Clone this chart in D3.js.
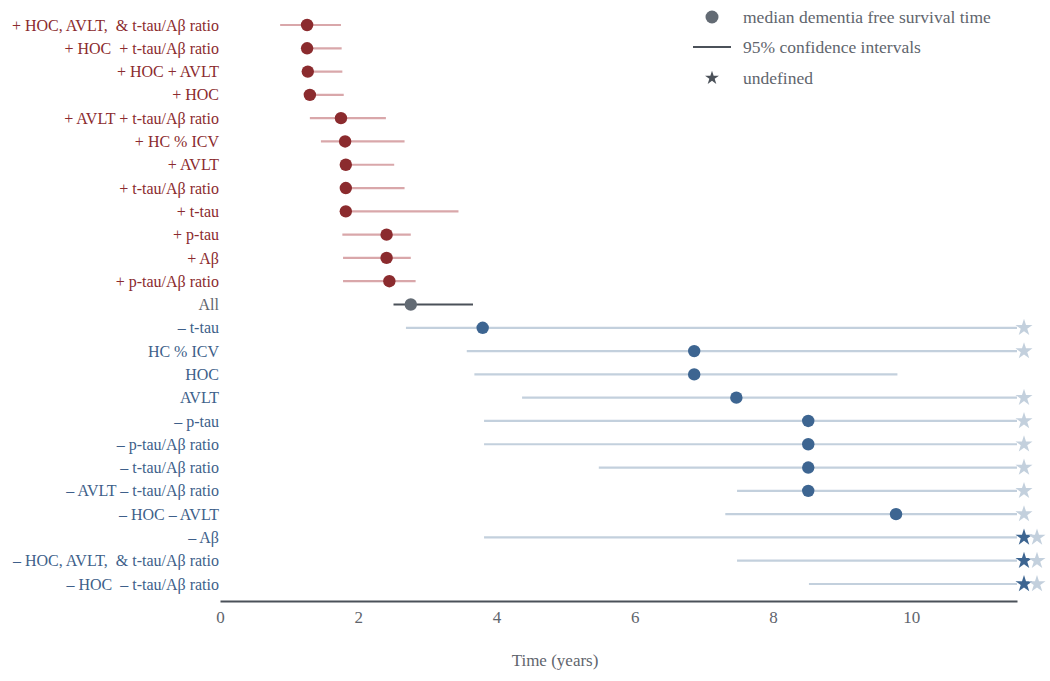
<!DOCTYPE html>
<html><head><meta charset="utf-8">
<script src="https://cdn.jsdelivr.net/npm/d3@7"></script>
<style>body{margin:0;background:#fff}text{font-family:"Liberation Serif","DejaVu Serif",serif;white-space:pre}</style>
</head><body><svg id="c" width="1050" height="681"></svg>
<script>
const labels = ["+ HOC, AVLT,  & t-tau/Aβ ratio","+ HOC  + t-tau/Aβ ratio","+ HOC + AVLT","+ HOC","+ AVLT + t-tau/Aβ ratio","+ HC % ICV","+ AVLT","+ t-tau/Aβ ratio","+ t-tau","+ p-tau","+ Aβ","+ p-tau/Aβ ratio","All","– t-tau","HC % ICV","HOC","AVLT","– p-tau","– p-tau/Aβ ratio","– t-tau/Aβ ratio","– AVLT – t-tau/Aβ ratio","– HOC – AVLT","– Aβ","– HOC, AVLT,  & t-tau/Aβ ratio","– HOC  – t-tau/Aβ ratio"];
const groups = ["add","add","add","add","add","add","add","add","add","add","add","add","all","rem","rem","rem","rem","rem","rem","rem","rem","rem","rem","rem","rem"];
// null = undefined
const median = [1.26,1.26,1.27,1.30,1.75,1.81,1.82,1.82,1.82,2.41,2.41,2.45,2.76,3.80,6.86,6.86,7.47,8.51,8.51,8.51,8.51,9.78,null,null,null];
const ciLow  = [0.87,1.22,1.27,1.30,1.30,1.46,1.82,1.82,1.82,1.77,1.78,1.78,2.51,2.69,3.57,3.68,4.37,3.82,3.82,5.48,7.48,7.31,3.82,7.48,8.52];
const ciHigh = [1.75,1.76,1.77,1.79,2.40,2.67,2.52,2.67,3.45,2.76,2.76,2.83,3.66,null,null,9.80,null,null,null,null,null,null,null,null,null];
const xTicks = [0,2,4,6,8,10];
const legendItems = ["median dementia free survival time","95% confidence intervals","undefined"];

const colors = {
  add:{text:"#8b2b2e",dot:"#8b2b2e",ci:"#d9a7aa"},
  all:{text:"#5f656d",dot:"#636b74",ci:"#4b5159"},
  rem:{text:"#3e5f8a",dot:"#3d6591",ci:"#c3d0dd"}
};
const svg = d3.select("#c");
const xMax = 11.53;
const x = d3.scaleLinear().domain([0,xMax]).range([220,1017]);
const y = d3.scalePoint().domain(d3.range(labels.length)).range([25,584]);

// axis
const ax = svg.append("g").attr("transform","translate(0,601)")
  .call(d3.axisBottom(x).tickValues(xTicks).tickSize(0).tickPadding(10).tickFormat(d3.format("d")));
ax.select(".domain").attr("stroke","#4b5159").attr("stroke-width",2.2);
ax.selectAll("text").attr("fill","#5f656d").style("font-size","17px").style("font-family","Liberation Serif");
svg.append("text").attr("x",555).attr("y",666).attr("text-anchor","middle")
  .attr("fill","#5f656d").style("font-size","17px").text("Time (years)");

const rows = svg.append("g").selectAll("g").data(labels).join("g")
  .attr("transform",(d,i)=>`translate(0,${y(i)})`);
rows.append("text").attr("x",219).attr("dy","0.35em").attr("text-anchor","end")
  .style("font-size","16px").attr("fill",(d,i)=>colors[groups[i]].text).text(d=>d);
rows.append("line")
  .attr("x1",(d,i)=>x(ciLow[i])).attr("x2",(d,i)=>x(ciHigh[i]===null?xMax:ciHigh[i]))
  .attr("stroke",(d,i)=>colors[groups[i]].ci).attr("stroke-width",2.2);
const star = d3.symbol().type(d3.symbolStar).size(90);
rows.filter((d,i)=>median[i]!==null).append("circle")
  .attr("cx",(d,i)=>x(median[labels.indexOf(d)])).attr("r",6.2)
  .attr("fill",d=>colors[groups[labels.indexOf(d)]].dot);
rows.each(function(d,i){
  const g=d3.select(this);
  if(median[i]===null){
    g.append("path").attr("d",star).attr("transform",`translate(${x(xMax)+7},0)`).attr("fill","#3d6591");
    g.append("path").attr("d",star).attr("transform",`translate(${x(xMax)+20},0)`).attr("fill","#c3d0dd");
  } else if(ciHigh[i]===null){
    g.append("path").attr("d",star).attr("transform",`translate(${x(xMax)+7},0)`).attr("fill","#c3d0dd");
  }
});

// legend
const lg = svg.append("g");
const ly = [17,47,78];
lg.append("circle").attr("cx",712).attr("cy",ly[0]).attr("r",6.5).attr("fill","#636b74");
lg.append("line").attr("x1",693).attr("x2",731).attr("y1",ly[1]).attr("y2",ly[1]).attr("stroke","#4b5159").attr("stroke-width",2.2);
lg.append("path").attr("d",d3.symbol().type(d3.symbolStar).size(60)).attr("transform",`translate(712,${ly[2]})`).attr("fill","#4b5159");
lg.selectAll("text.l").data(legendItems).join("text").attr("class","l")
  .attr("x",743).attr("y",(d,i)=>ly[i]).attr("dy","0.35em").attr("fill","#5f656d")
  .style("font-size","17.5px").text(d=>d);
</script></body></html>
